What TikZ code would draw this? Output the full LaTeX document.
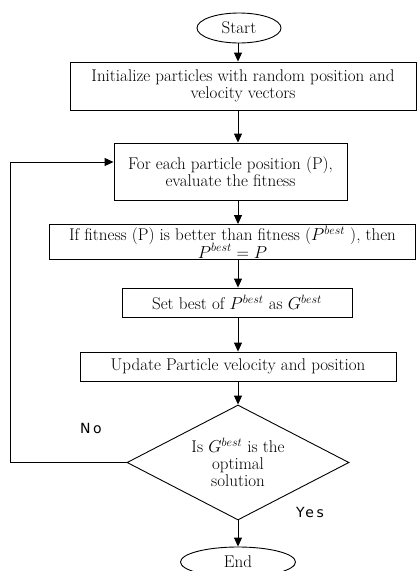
\documentclass[tikz,border=0pt]{standalone}
\usepackage{fontspec}
\newfontfamily\labelfont[LetterSpace=18]{DejaVu Sans}
\usetikzlibrary{shapes.geometric,arrows.meta}

\tikzset{
	block/.style={draw, line width=0.9pt, align=center, inner sep=0pt},
	term/.style={draw, ellipse, line width=0.9pt, inner sep=0pt},
	decision/.style={draw, diamond, aspect=1.93, line width=0.9pt, align=center, inner sep=0pt},
	flow/.style={line width=0.9pt, -{Triangle[length=9pt,width=8pt]}},
	answer/.style={font=\labelfont\fontsize{14}{14}\selectfont},
}

\begin{document}
\begin{tikzpicture}[x=1pt, y=-1pt, font=\fontsize{17}{17}\selectfont]
	\useasboundingbox (0,0) rectangle (417,571);
	% Spine and loop line
	\coordinate (spine) at (238,0);
	\coordinate (back) at (10,0);

	% Start and end
	\node[term, minimum width=84pt, minimum height=30pt] (start) at (239,28) {Start};
	\node[term, minimum width=115pt, minimum height=30pt] (end) at (238,562) {End};

	% Steps
	\node[block, minimum width=346pt, minimum height=48pt] (init) at (243,86)
		{Initialize particles with random position and\\velocity vectors};
	\node[block, minimum width=233pt, minimum height=57pt] (fit) at (230.5,171.5)
		{For each particle position (P),\\evaluate the fitness};
	\node[block, minimum width=366pt, minimum height=35pt] (cmp) at (232.5,242)
		{If fitness (P) is better than fitness ($P^{best}$ ), then\\[-2pt]$P^{best} = P$};
	\node[block, minimum width=230pt, minimum height=29pt] (gbest) at (237,302.5)
		{Set best of $P^{best}$ as $G^{best}$};
	\node[block, minimum width=316pt, minimum height=29pt] (upd) at (238,366.5)
		{Update Particle velocity and position};

	% Decision
	\node[decision, minimum width=222pt, minimum height=115pt] (check) at (238,462.5)
		{Is $G^{best}$ is the\\optimal\\solution};

	% Arrows
	\draw[flow] (spine |- start.south) -- (spine |- init.north);
	\draw[flow] (spine |- init.south) -- (spine |- fit.north);
	\draw[flow] (spine |- fit.south) -- (spine |- cmp.north);
	\draw[flow] (spine |- cmp.south) -- (spine |- gbest.north);
	\draw[flow] (spine |- gbest.south) -- (spine |- upd.north);
	\draw[flow] (spine |- upd.south) -- (check.north);
	\draw[flow] (check.south) -- (end.north);
	% Loop back
	\draw[flow] (check.west) -- (back |- check.west) |- ([yshift=9.5pt]fit.west);

	% Answers
	\node[answer] (no) at (91,428) {No};
	\node[answer] (yes) at (310,512) {Yes};
\end{tikzpicture}
\end{document}
